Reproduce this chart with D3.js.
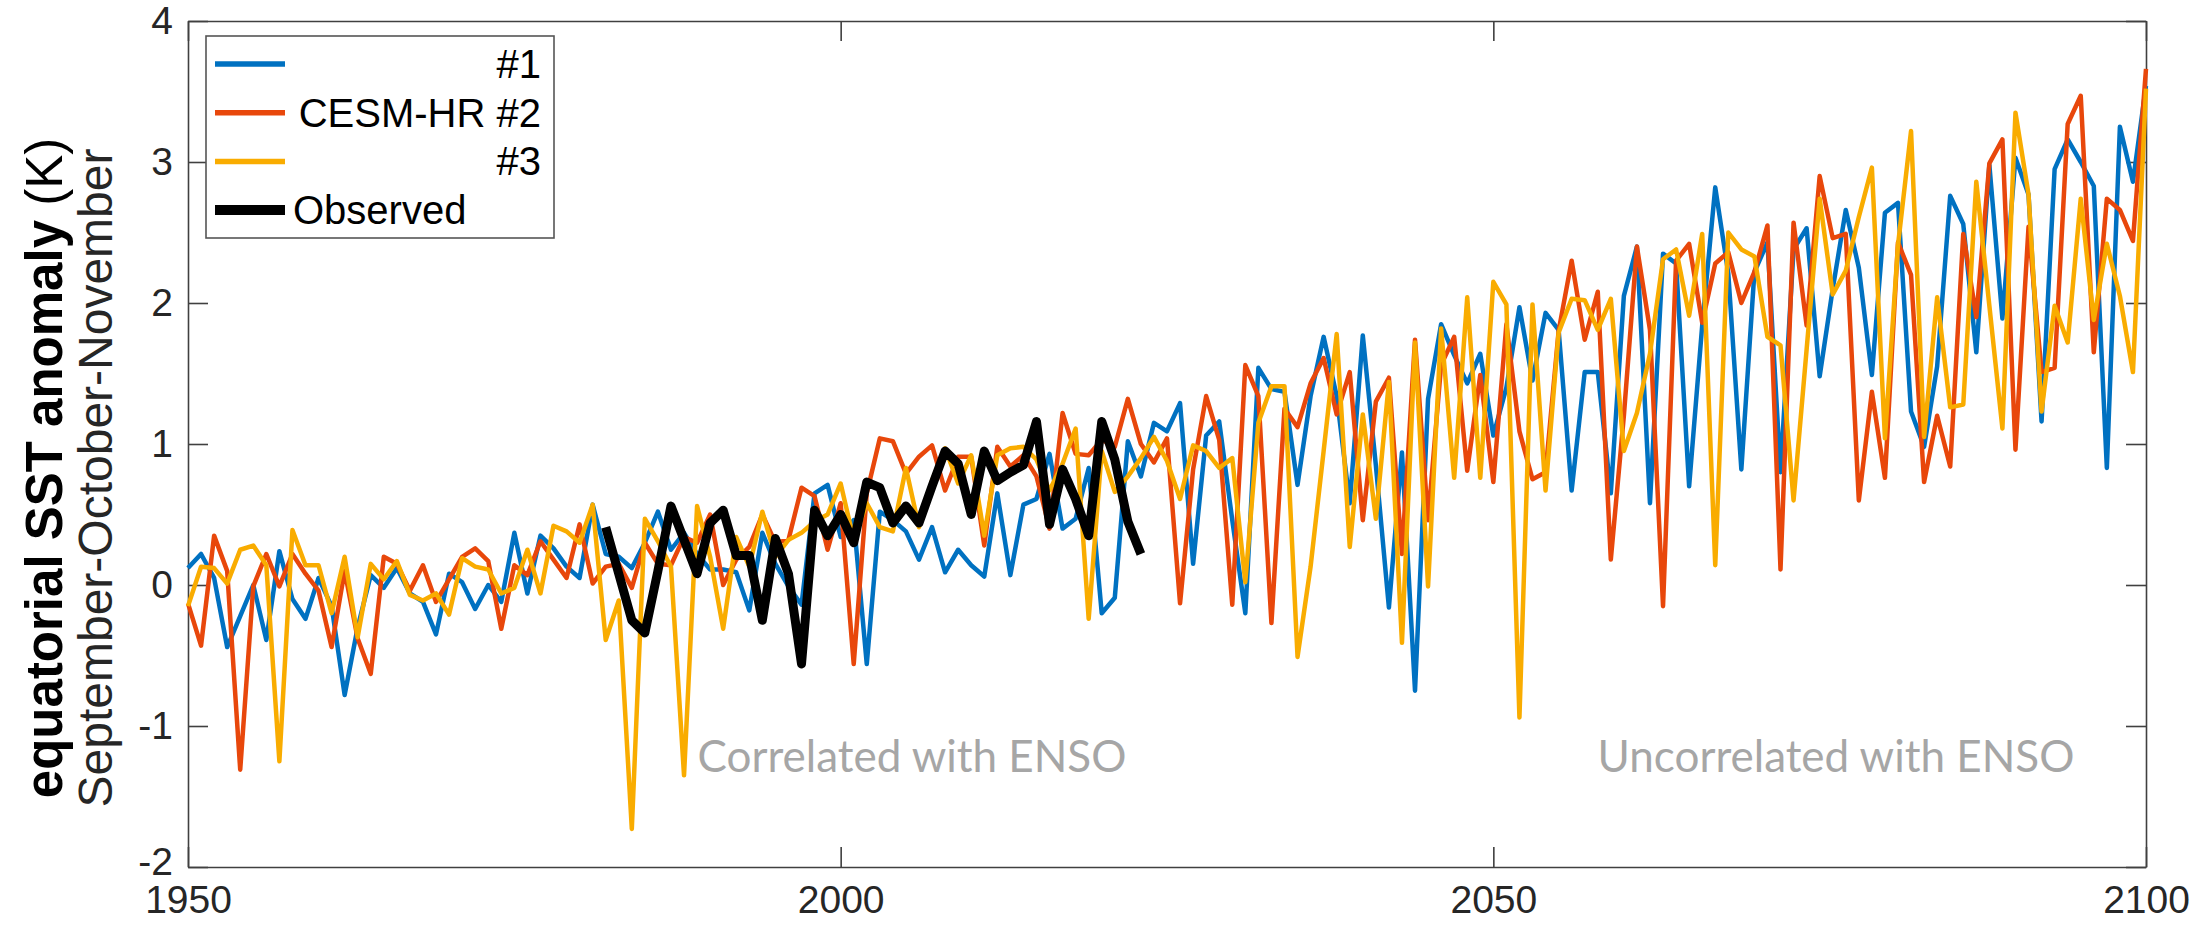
<!DOCTYPE html>
<html>
<head>
<meta charset="utf-8">
<script src="https://cdn.jsdelivr.net/npm/d3@7"></script>
<style>
body { margin: 0; background: #fff; }
svg text { font-family: "Liberation Sans", Arial, sans-serif; }
</style>
</head>
<body>
<svg id="chart"></svg>
<script>
var svg_w = 2212;
var svg_h = 926;

var blue = "#0071c1";
var red = "#e8470b";
var yellow = "#f9ac00";
var black = "#000000";
var axis_col = "#404040";
var note_col = "#a6a6a6";

// data
var model_years = d3.range(1950, 2101);
var obs_years = d3.range(1982, 2024);

var run1 = [0.12,0.22,0.05,-0.44,-0.22,0.0,-0.39,0.24,-0.1,-0.24,
	0.05,-0.15,-0.78,-0.3,0.07,-0.02,0.12,-0.06,-0.12,-0.35,
	0.08,0.02,-0.17,0.0,-0.12,0.37,-0.06,0.35,0.26,0.13,
	0.05,0.57,0.22,0.2,0.12,0.3,0.52,0.25,0.37,0.22,
	0.11,0.11,0.09,-0.18,0.37,0.15,-0.01,-0.14,0.65,0.71,
	0.34,0.46,-0.56,0.52,0.46,0.38,0.18,0.41,0.09,0.25,
	0.14,0.06,0.65,0.07,0.57,0.61,0.93,0.4,0.47,0.83,
	-0.2,-0.09,1.02,0.77,1.15,1.09,1.29,0.15,1.06,1.16,
	0.46,-0.2,1.54,1.39,1.37,0.71,1.34,1.76,1.34,0.58,
	1.77,0.85,-0.16,0.94,-0.75,1.32,1.85,1.63,1.43,1.64,
	1.06,1.4,1.97,1.45,1.93,1.81,0.67,1.51,1.51,0.65,
	2.05,2.4,0.58,2.35,2.28,0.7,1.84,2.82,2.21,0.82,
	2.22,2.43,0.8,2.38,2.53,1.48,2.1,2.66,2.25,1.49,
	2.64,2.71,1.23,0.98,1.55,2.76,2.56,1.65,2.98,1.89,
	3.03,2.77,1.16,2.95,3.16,3.0,2.83,0.83,3.25,2.86,
	3.54];

var run2 = [-0.13,-0.43,0.35,0.1,-1.31,-0.01,0.22,-0.01,0.22,0.08,
	-0.04,-0.44,0.1,-0.38,-0.63,0.2,0.15,-0.04,0.14,-0.12,
	0.04,0.2,0.26,0.17,-0.31,0.14,0.07,0.31,0.18,0.05,
	0.43,0.01,0.13,0.15,-0.02,0.3,0.15,0.14,0.34,0.3,
	0.5,0.0,0.18,0.27,0.5,0.3,0.32,0.69,0.63,0.25,
	0.58,-0.56,0.65,1.04,1.02,0.79,0.91,0.99,0.67,0.91,
	0.91,0.28,0.98,0.84,0.92,0.77,0.4,1.22,0.93,0.92,
	1.03,0.98,1.32,1.0,0.87,1.04,-0.13,0.82,1.34,1.03,
	-0.14,1.56,1.34,-0.27,1.25,1.12,1.43,1.61,1.21,1.51,
	0.46,1.3,1.47,0.22,1.74,0.46,1.56,1.76,0.81,1.49,
	0.73,1.85,1.09,0.75,0.8,1.8,2.3,1.74,2.08,0.18,
	1.2,2.4,1.81,-0.15,2.3,2.42,1.86,2.28,2.36,2.0,
	2.22,2.55,0.11,2.57,1.84,2.9,2.46,2.49,0.6,1.37,
	0.76,2.43,2.2,0.73,1.2,0.84,2.49,1.9,2.99,3.16,
	0.96,2.54,1.51,1.54,3.27,3.47,1.65,2.74,2.66,2.44,
	3.66];

var run3 = [-0.15,0.13,0.12,0.01,0.25,0.28,0.14,-1.25,0.39,0.14,
	0.14,-0.2,0.2,-0.37,0.15,0.04,0.17,-0.07,-0.11,-0.06,
	-0.21,0.19,0.13,0.11,-0.06,-0.02,0.25,-0.06,0.42,0.38,
	0.3,0.57,-0.39,-0.11,-1.73,0.47,0.31,0.13,-1.35,0.56,
	0.2,-0.31,0.34,0.13,0.52,0.2,0.32,0.37,0.45,0.5,
	0.72,0.32,0.58,0.41,0.38,0.83,0.41,0.74,0.97,0.72,
	0.92,0.35,0.92,0.97,0.98,0.89,0.67,0.86,1.11,-0.24,
	0.95,0.66,0.77,0.9,1.05,0.88,0.61,0.99,0.95,0.83,
	0.9,0.02,1.15,1.41,1.41,-0.51,0.13,0.95,1.78,0.27,
	1.21,0.47,1.44,-0.41,1.72,-0.01,1.82,0.76,2.04,0.76,
	2.15,1.99,-0.94,1.99,0.67,1.79,2.03,2.02,1.81,2.03,
	0.95,1.22,1.64,2.31,2.38,1.91,2.49,0.14,2.5,2.38,
	2.33,1.76,1.7,0.6,1.67,2.74,2.06,2.23,2.61,2.96,
	1.04,2.41,3.22,1.05,2.04,1.26,1.28,2.86,1.98,1.11,
	3.35,2.77,1.23,1.98,1.72,2.74,1.88,2.42,2.05,1.51,
	3.52];

var observed = [0.41,0.08,-0.25,-0.34,0.1,0.56,0.32,0.08,0.44,0.53,
	0.21,0.21,-0.25,0.33,0.08,-0.56,0.53,0.35,0.5,0.3,
	0.73,0.69,0.44,0.56,0.44,0.7,0.95,0.86,0.5,0.95,
	0.74,0.8,0.85,1.16,0.43,0.82,0.61,0.35,1.16,0.89,
	0.45,0.22];

var x_ticks = [1950, 2000, 2050, 2100];
var y_ticks = [-2, -1, 0, 1, 2, 3, 4];
var legend_labels = ["#1", "CESM-HR #2", "#3", "Observed"];

var p_left = 188, p_right = 2146, p_top = 21, p_bottom = 867;
var tick_len = 20;

var svg = d3.select("#chart").attr("width", svg_w).attr("height", svg_h);

var x = d3.scaleLinear().domain([1950, 2100]).range([p_left, p_right]);
var y = d3.scaleLinear().domain([-2, 4]).range([p_bottom, p_top]);

var line = d3.line()
	.x(function(d){ return x(d[0]); })
	.y(function(d){ return y(d[1]); });

function pairs(yrs, vals){
	return yrs.map(function(yr, i){ return [yr, vals[i]]; });
}

// axes, ticks point inward on all four sides
var fmt = function(d){ return String(d); };

var ax_left = svg.append("g").attr("transform", "translate(" + p_left + ",0)")
	.call(d3.axisLeft(y).tickValues(y_ticks).tickFormat(fmt).tickSizeInner(-tick_len).tickSizeOuter(0).tickPadding(15));
var ax_right = svg.append("g").attr("transform", "translate(" + p_right + ",0)")
	.call(d3.axisRight(y).tickValues(y_ticks).tickFormat("").tickSizeInner(-tick_len).tickSizeOuter(0));
var ax_bottom = svg.append("g").attr("transform", "translate(0," + p_bottom + ")")
	.call(d3.axisBottom(x).tickValues(x_ticks).tickFormat(fmt).tickSizeInner(-tick_len).tickSizeOuter(0).tickPadding(10));
var ax_top = svg.append("g").attr("transform", "translate(0," + p_top + ")")
	.call(d3.axisTop(x).tickValues(x_ticks).tickFormat("").tickSizeInner(-tick_len).tickSizeOuter(0));

svg.selectAll(".domain").attr("stroke", axis_col).attr("stroke-width", 1.6);
svg.selectAll(".tick line").attr("stroke", axis_col).attr("stroke-width", 1.6);
svg.selectAll(".tick text").attr("fill", "#262626").style("font-size", "39px")
	.style("font-family", "'Liberation Sans', Arial, sans-serif");
ax_bottom.selectAll(".tick text").attr("dy", "0.92em");
ax_left.selectAll(".tick text").filter(function(d){ return d == -2; }).attr("dy", "0.2em");

// series
var series = [
	{ vals: pairs(model_years, run1), col: blue, w: 4.5 },
	{ vals: pairs(model_years, run2), col: red, w: 4.5 },
	{ vals: pairs(model_years, run3), col: yellow, w: 4.5 },
	{ vals: pairs(obs_years, observed), col: black, w: 9 }
];

svg.append("g").selectAll("path").data(series).enter().append("path")
	.attr("d", function(d){ return line(d.vals); })
	.attr("fill", "none")
	.attr("stroke", function(d){ return d.col; })
	.attr("stroke-width", function(d){ return d.w; })
	.attr("stroke-linejoin", "round");

// notes
svg.append("text").attr("x", 912).attr("y", 772).attr("text-anchor", "middle")
	.style("font-family", "Lato, sans-serif").style("font-size", "44px")
	.attr("fill", note_col).text("Correlated with ENSO");
svg.append("text").attr("x", 1836).attr("y", 772).attr("text-anchor", "middle")
	.style("font-family", "Lato, sans-serif").style("font-size", "44px")
	.attr("fill", note_col).text("Uncorrelated with ENSO");

// y label
var ylab1 = svg.append("text").attr("transform", "translate(62,468) rotate(-90)")
	.attr("text-anchor", "middle").style("font-size", "51px").attr("fill", "#000");
ylab1.append("tspan").style("font-weight", "bold").text("equatorial SST anomaly");
ylab1.append("tspan").text(" (K)");
svg.append("text").attr("transform", "translate(112,478) rotate(-90)")
	.attr("text-anchor", "middle").style("font-size", "48px").attr("fill", "#262626")
	.text("September-October-November");

// legend
var leg = svg.append("g");
leg.append("rect").attr("x", 206).attr("y", 36).attr("width", 348).attr("height", 202)
	.attr("fill", "#fff").attr("stroke", "#555").attr("stroke-width", 1.6);

var leg_rows = leg.selectAll("g.row").data(series).enter().append("g").attr("class", "row")
	.attr("transform", function(d, i){ return "translate(0," + (64 + i * 48.7) + ")"; });

leg_rows.append("line").attr("x1", 215).attr("x2", 285).attr("y1", 0).attr("y2", 0)
	.attr("stroke", function(d){ return d.col; })
	.attr("stroke-width", function(d){ return d.w + 1; });

leg_rows.append("text")
	.attr("x", function(d, i){ return i == 3 ? 293 : 541; })
	.attr("y", 14)
	.attr("text-anchor", function(d, i){ return i == 3 ? "start" : "end"; })
	.style("font-size", "40px").attr("fill", "#000")
	.text(function(d, i){ return legend_labels[i]; });
</script>
</body>
</html>
